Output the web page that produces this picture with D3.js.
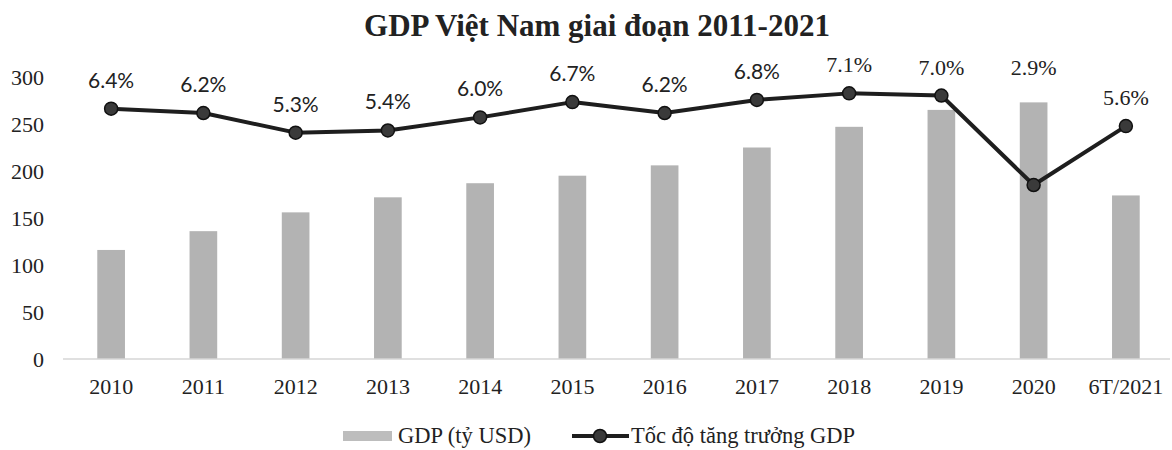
<!DOCTYPE html>
<html>
<head>
<meta charset="utf-8">
<script src="https://cdn.jsdelivr.net/npm/d3@7"></script>
<style>
  body { margin: 0; background: #fff; }
  svg { display: block; }
</style>
</head>
<body>
<svg id="chart" width="1172" height="450"></svg>
<script>
const categories = ["2010","2011","2012","2013","2014","2015","2016","2017","2018","2019","2020","6T/2021"];
const gdpValues = [116, 136, 156, 172, 187, 195, 206, 225, 247, 265, 273, 174];
const growthValues = [6.4, 6.2, 5.3, 5.4, 6.0, 6.7, 6.2, 6.8, 7.1, 7.0, 2.9, 5.6];
const growthLabels = ["6.4%","6.2%","5.3%","5.4%","6.0%","6.7%","6.2%","6.8%","7.1%","7.0%","2.9%","5.6%"];
const yTicks = [0, 50, 100, 150, 200, 250, 300];
const titleText = "GDP Việt Nam giai đoạn 2011-2021";
const legendBar = "GDP (tỷ USD)";
const legendLine = "Tốc độ tăng trưởng GDP";

const svg = d3.select("#chart");
const serif = "'Liberation Serif', 'Times New Roman', serif";
const sans = "Lato, 'Liberation Sans', sans-serif";

const x = d3.scaleBand().domain(categories).range([65, 1172]).paddingInner(0.7).paddingOuter(0.35);
const y = d3.scaleLinear().domain([0, 300]).range([359, 77]);
const y2 = d3.scaleLinear().domain([-5.07, 7.85]).range([359, 77]);

// title
svg.append("text").attr("x", 597).attr("y", 36).attr("text-anchor", "middle")
  .attr("font-family", serif).attr("font-weight", "bold").attr("font-size", 31)
  .attr("fill", "#222").text(titleText);

// y axis (labels only)
const yAxis = d3.axisLeft(y).tickValues(yTicks).tickSize(0).tickPadding(0);
const gy = svg.append("g").attr("transform", "translate(44,0)").call(yAxis);
gy.select(".domain").remove();
gy.selectAll("text").attr("font-family", serif).attr("font-size", 22).attr("fill", "#222");

// bars
svg.append("g").selectAll("rect").data(gdpValues).join("rect")
  .attr("x", (d, i) => x(categories[i]))
  .attr("width", x.bandwidth())
  .attr("y", d => y(d))
  .attr("height", d => y(0) - y(d))
  .attr("fill", "#b3b3b3");

// x axis
const xAxis = d3.axisBottom(x).tickSize(0).tickPadding(19);
const gx = svg.append("g").attr("transform", `translate(0,${y(0)})`).call(xAxis);
gx.select(".domain").attr("stroke", "#d6d6d6").attr("stroke-width", 1.5).attr("d", "M63,0H1170");
gx.selectAll("text").attr("font-family", serif).attr("font-size", 22).attr("fill", "#222");

// line
const cx = (d, i) => x(categories[i]) + x.bandwidth() / 2;
const line = d3.line().x(cx).y(d => y2(d));
svg.append("path").datum(growthValues).attr("d", line)
  .attr("fill", "none").attr("stroke", "#1e1e1e").attr("stroke-width", 4).attr("stroke-linejoin", "round");
svg.append("g").selectAll("circle").data(growthValues).join("circle")
  .attr("cx", cx).attr("cy", d => y2(d)).attr("r", 6.5)
  .attr("fill", "#3a3a3a").attr("stroke", "#111").attr("stroke-width", 1.5);

// labels (a label whose point drops sharply is kept at the previous label's height, clear of the line)
const labelY = (d, i) => {
  const prev = i > 0 ? growthValues[i - 1] : d;
  return y2(prev - d > 2 ? prev : d) - 21;
};
svg.append("g").selectAll("text").data(growthValues).join("text")
  .attr("x", cx).attr("y", labelY).attr("text-anchor", "middle")
  .attr("font-family", (d, i) => i < 8 ? sans : serif)
  .attr("font-size", (d, i) => i < 8 ? 21 : 22)
  .attr("fill", "#222")
  .text((d, i) => growthLabels[i]);

// legend
const lg = svg.append("g");
lg.append("rect").attr("x", 343).attr("y", 431).attr("width", 49).attr("height", 10).attr("fill", "#bdbdbd");
lg.append("text").attr("x", 398).attr("y", 443).attr("font-family", serif).attr("font-size", 22.5).attr("fill", "#222").text(legendBar);
lg.append("line").attr("x1", 572).attr("x2", 629).attr("y1", 436).attr("y2", 436).attr("stroke", "#1e1e1e").attr("stroke-width", 4);
lg.append("circle").attr("cx", 600).attr("cy", 436).attr("r", 6.5).attr("fill", "#3a3a3a").attr("stroke", "#111").attr("stroke-width", 1.5);
lg.append("text").attr("x", 631).attr("y", 443).attr("font-family", serif).attr("font-size", 22.5).attr("fill", "#222").text(legendLine);
</script>
</body>
</html>
